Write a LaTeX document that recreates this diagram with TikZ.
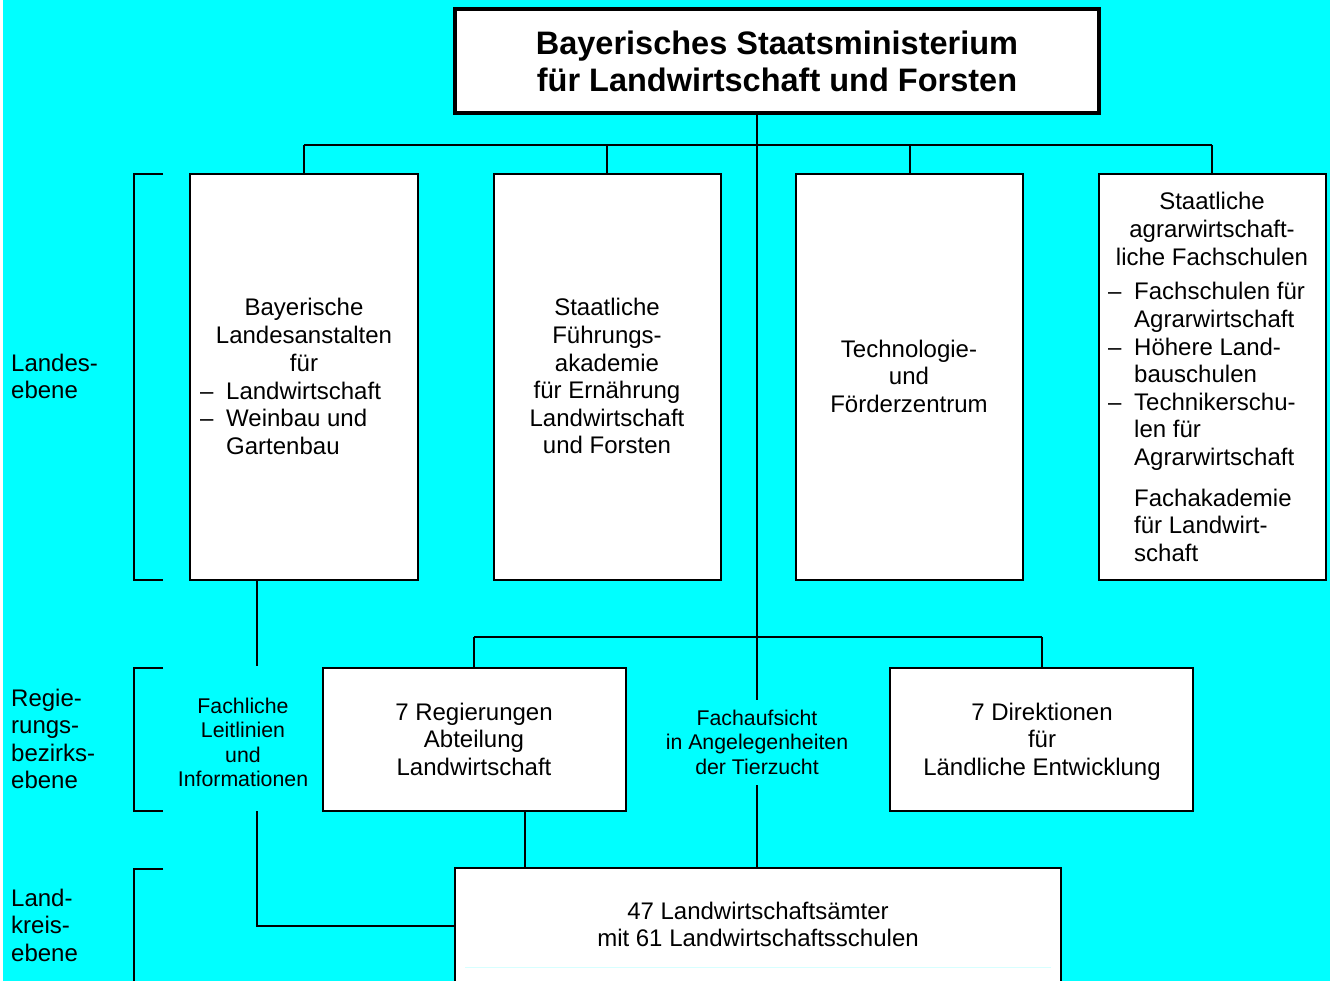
\documentclass[tikz,border=0pt]{standalone}
\usepackage{fontspec}
\setmainfont{Liberation Sans}
\definecolor{bgcyan}{RGB}{0,255,255}
\definecolor{faintcyan}{RGB}{215,255,255}
\newcommand{\mainsz}{\fontsize{24}{27.6}\selectfont}
\newcommand{\smallsz}{\fontsize{21.3}{24.5}\selectfont}
\newcommand{\titlesz}{\fontsize{32.5}{37}\selectfont\bfseries}
\newcommand{\ctrlines}[1]{\begin{tabular}[t]{@{}c@{}}#1\end{tabular}}
\newcommand{\lftlines}[1]{\begin{tabular}[t]{@{}l@{}}#1\end{tabular}}
\newcommand{\dashitem}[1]{\makebox[26pt][l]{–}#1}
\newcommand{\nodashitem}[1]{\hspace*{26pt}#1}
\begin{document}
\begin{tikzpicture}[x=1pt,y=-1pt,
  box/.style={draw=black,line width=2.2pt,fill=white,inner sep=0pt,outer sep=0pt,anchor=north west},
  txt/.style={inner sep=0pt,anchor=base,font=\mainsz},
  ltxt/.style={inner sep=0pt,anchor=base west,font=\mainsz},
  stxt/.style={inner sep=0pt,anchor=base,font=\smallsz},
  conn/.style={line width=2pt},
  brk/.style={line width=2.4pt}]
\fill[bgcyan] (0,0) rectangle (1330,981);
\fill[white] (0,0) rectangle (3,981);
\useasboundingbox (0,0) rectangle (1330,981);

% title
\node[box,line width=4pt,minimum width=644pt,minimum height=104pt] (top) at (455,9) {};
\node[inner sep=0pt,anchor=base,font=\titlesz] (toptxt) at (777,55) {\ctrlines{Bayerisches Staatsministerium\\für Landwirtschaft und Forsten}};

% level 1 boxes
\node[box,minimum width=228pt,minimum height=406pt] (b1) at (190,174) {};
\node[box,minimum width=227pt,minimum height=406pt] (b2) at (494,174) {};
\node[box,minimum width=227pt,minimum height=406pt] (b3) at (796,174) {};
\node[box,minimum width=227pt,minimum height=406pt] (b4) at (1099,174) {};

\node[txt] (b1t) at (304,316) {\ctrlines{Bayerische\\Landesanstalten\\für}};
\node[ltxt] (b1l) at (200,399) {\lftlines{\dashitem{Landwirtschaft}\\\dashitem{Weinbau und}\\\nodashitem{Gartenbau}}};
\node[txt] (b2t) at (607,316) {\ctrlines{Staatliche\\Führungs-\\akademie\\für Ernährung\\Landwirtschaft\\und Forsten}};
\node[txt] (b3t) at (909,357) {\ctrlines{Technologie-\\und\\Förderzentrum}};
\node[txt] (b4t) at (1212,210) {\ctrlines{Staatliche\\agrarwirtschaft-\\liche Fachschulen}};
\node[ltxt] (b4l) at (1108,300) {\lftlines{\dashitem{Fachschulen für}\\\nodashitem{Agrarwirtschaft}\\\dashitem{Höhere Land-}\\\nodashitem{bauschulen}\\\dashitem{Technikerschu-}\\\nodashitem{len für}\\\nodashitem{Agrarwirtschaft}}};
\node[ltxt] (b4f) at (1134,506) {\lftlines{Fachakademie\\für Landwirt-\\schaft}};

% level 2 boxes
\node[box,minimum width=303pt,minimum height=143pt] (reg) at (323,668) {};
\node[box,minimum width=303pt,minimum height=143pt] (dir) at (890,668) {};
\node[txt] (regt) at (474,720) {\ctrlines{7 Regierungen\\Abteilung\\Landwirtschaft}};
\node[txt] (dirt) at (1042,720) {\ctrlines{7 Direktionen\\für\\Ländliche Entwicklung}};
\node[stxt] (fach) at (243,713) {\ctrlines{Fachliche\\Leitlinien\\und\\Informationen}};
\node[stxt] (aufs) at (757,725) {\ctrlines{Fachaufsicht\\in Angelegenheiten\\der Tierzucht}};

% level 3 box
\node[box,minimum width=606pt,minimum height=140pt] (amt) at (455,868) {};
\draw[faintcyan,line width=1pt] ([xshift=10pt,yshift=-99pt]amt.north west) -- ([xshift=-10pt,yshift=-99pt]amt.north east);
\node[txt] (amtt) at (758,919) {\ctrlines{47 Landwirtschaftsämter\\mit 61 Landwirtschaftsschulen}};

% level labels
\node[ltxt] (l1) at (11,371) {\lftlines{Landes-\\ebene}};
\node[ltxt] (l2) at (11,706) {\lftlines{Regie-\\rungs-\\bezirks-\\ebene}};
\node[ltxt] (l3) at (11,906) {\lftlines{Land-\\kreis-\\ebene}};

% brackets
\coordinate (br1a) at (163,174); \coordinate (br1b) at (163,580);
\draw[brk] (br1a) -| (134,580) -- (br1b);
\coordinate (br2a) at (163,668); \coordinate (br2b) at (163,811);
\draw[brk] (br2a) -| (134,811) -- (br2b);
\coordinate (br3a) at (163,869); \coordinate (br3b) at (134,981);
\draw[brk] (br3a) -| (br3b);

% connectors
\coordinate (hb) at (757,145);
\coordinate (j1) at (304,145);
\coordinate (j2) at (607,145);
\coordinate (j3) at (910,145);
\coordinate (j4) at (1212,145);
\draw[conn] (top.south -| hb) -- (hb);
\draw[conn] (j1) -- (j4);
\draw[conn] (j1) -- (b1.north -| j1);
\draw[conn] (j2) -- (b2.north -| j2);
\draw[conn] (j3) -- (b3.north -| j3);
\draw[conn] (j4) -- (b4.north -| j4);
\coordinate (mid) at (757,637);
\coordinate (aufsTop) at (757,700);
\coordinate (aufsBot) at (757,785);
\draw[conn] (hb) -- (mid) -- (aufsTop);
\coordinate (k1) at (474,637);
\coordinate (k2) at (1042,637);
\draw[conn] (k1) -- (k2);
\draw[conn] (k1) -- (reg.north -| k1);
\draw[conn] (k2) -- (dir.north -| k2);
\draw[conn] (aufsBot) -- (amt.north -| aufsBot);
\coordinate (rb) at (525,811);
\draw[conn] (rb) -- (amt.north -| rb);
\coordinate (f1) at (257,666);
\coordinate (f2) at (257,811);
\coordinate (f3) at (257,926);
\draw[conn] (b1.south -| f1) -- (f1);
\draw[conn] (f2) -- (f3) -- (amt.west |- f3);
\end{tikzpicture}
\end{document}
